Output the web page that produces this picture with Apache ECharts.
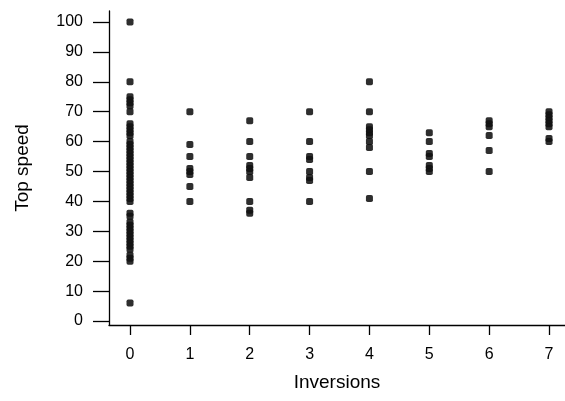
<!DOCTYPE html>
<html>
<head>
<meta charset="utf-8">
<script src="https://cdn.jsdelivr.net/npm/echarts@6/dist/echarts.min.js"></script>
<style>
  html, body { margin: 0; padding: 0; background: #fff; }
  #chart { width: 565px; height: 401px; }
</style>
</head>
<body>
<div id="chart"></div>
<script>
// Top speed of roller coasters grouped by number of inversions
const inversions = [0, 1, 2, 3, 4, 5, 6, 7];
const speeds0 = [100, 80, 75, 74, 73, 72, 70, 66, 65, 64, 63, 62, 60, 59, 58, 57, 56, 55, 54, 53, 52, 51, 50, 49, 48, 47, 46, 45, 44, 43, 42, 41, 40, 36, 35, 33, 32, 31, 30, 29, 28, 27, 26, 25, 24, 22, 21, 20, 6];
const speeds1 = [70, 59, 55, 51, 50, 49, 45, 40];
const speeds2 = [67, 60, 55, 52, 51, 50, 48, 40, 37, 36];
const speeds3 = [70, 60, 55, 54, 50, 48, 47, 40];
const speeds4 = [80, 70, 65, 64, 63, 62, 60, 58, 50, 41];
const speeds5 = [63, 60, 56, 55, 52, 51, 50];
const speeds6 = [67, 66, 65, 62, 57, 50];
const speeds7 = [70, 69, 68, 67, 66, 65, 61, 60];
const yTicks = [0, 10, 20, 30, 40, 50, 60, 70, 80, 90, 100];

const groups = [speeds0, speeds1, speeds2, speeds3, speeds4, speeds5, speeds6, speeds7];
const points = [];
groups.forEach((vals, i) => {
  vals.forEach(v => points.push([inversions[i], v]));
});

const font = 'Liberation Sans, Arial, sans-serif';
const chart = echarts.init(document.getElementById('chart'), null, { renderer: 'canvas' });
chart.setOption({
  animation: false,
  backgroundColor: '#fff',
  grid: { left: 109, right: 0, top: 11, bottom: 76, containLabel: false },
  xAxis: {
    type: 'value',
    min: -0.351,
    max: 7.267,
    name: 'Inversions',
    nameLocation: 'middle',
    nameGap: 48,
    nameTextStyle: { fontFamily: font, fontSize: 19, color: '#000' },
    axisLine: { show: true, onZero: false, lineStyle: { color: '#000', width: 1.3 } },
    axisTick: { show: true, inside: false, length: 10, customValues: inversions, lineStyle: { color: '#000', width: 1.3 } },
    axisLabel: { show: true, margin: 22, customValues: inversions, fontFamily: font, fontSize: 16, color: '#000' },
    splitLine: { show: false }
  },
  yAxis: {
    type: 'value',
    min: -1.34,
    max: 103.68,
    name: 'Top speed',
    nameLocation: 'middle',
    nameGap: 77,
    nameRotate: 90,
    nameTextStyle: { fontFamily: font, fontSize: 19, color: '#000' },
    axisLine: { show: true, onZero: false, lineStyle: { color: '#000', width: 1.3 } },
    axisTick: { show: true, inside: false, length: 16, customValues: yTicks, lineStyle: { color: '#000', width: 1.3 } },
    axisLabel: { show: true, margin: 26, customValues: yTicks, fontFamily: font, fontSize: 16, color: '#000' },
    splitLine: { show: false }
  },
  series: [{
    type: 'scatter',
    data: points,
    symbol: 'roundRect',
    symbolSize: 7,
    itemStyle: { color: '#111', opacity: 0.88 }
  }]
});
</script>
</body>
</html>
